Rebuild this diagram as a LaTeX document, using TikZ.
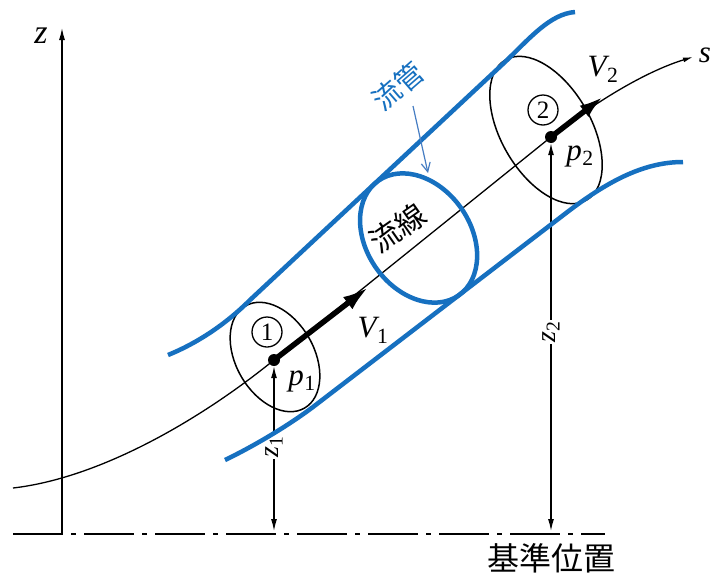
\documentclass[tikz,border=0pt]{standalone}
\usepackage{fontspec}
\newfontfamily\jp{Noto Sans CJK JP}
\newfontfamily\tms{Liberation Serif}
\newfontfamily\tmsi{Liberation Serif Italic}
\usetikzlibrary{arrows.meta,shapes.geometric}
\definecolor{tubeblue}{RGB}{22,112,192}
\definecolor{lblblue}{RGB}{70,125,195}
\newcommand\mylab[2]{{\tmsi #1}\kern0.5pt{\tms\textsubscript{#2}}}
\begin{document}
\begin{tikzpicture}[x=1pt,y=-1pt,
  blk/.style={line width=1.3pt},
  tube/.style={tubeblue,line width=4.5pt},
  ell/.style={ellipse,draw,line width=1.5pt,inner sep=0pt,outer sep=0pt},
  dot/.style={circle,fill,inner sep=0pt,minimum size=12pt},
  cnum/.style={circle,draw,line width=1.3pt,inner sep=0pt,minimum size=30pt,font=\tms\fontsize{25}{25}\selectfont},
  lbl/.style={font=\fontsize{31}{31}\selectfont},
  zlbl/.style={font=\fontsize{28}{28}\selectfont,rotate=90,fill=white,inner sep=1pt},
  tip/.style={-{Latex[length=12pt,width=6pt]}},
  dtip/.style={{Latex[length=12pt,width=6pt]}-{Latex[length=12pt,width=6pt]}}
]
\useasboundingbox (0,0) rectangle (713,576);
\fill[white] (0,0) rectangle (713,576);

% z axis and base line
\coordinate (zb) at (62,534);
\coordinate (zt) at (62,28);
\draw[blk,tip] (zb) -- (zt);
\node[font=\tmsi\fontsize{34}{34}\selectfont] (zl) at (41,36) {z};
\coordinate (b0) at (13,534);
\coordinate (b1) at (605,534);
\draw[line width=1.4pt,dash pattern=on 50pt off 8pt on 5pt off 8pt] (b0) -- (b1);
\node[font=\jp\fontsize{32}{32}\selectfont] (base) at (551,558) {基準位置};

% ellipses (sections)
\node[ell,minimum width=118pt,minimum height=78pt,rotate=-60] (E1) at (275,357) {};
\node[ell,minimum width=162pt,minimum height=90pt,rotate=-60] (E2) at (546,130) {};

% streamline
\coordinate (sA) at (13,488);
\node[dot] (P1) at (274,360) {};
\node[dot] (P2) at (551,137) {};
\coordinate (sB) at (693,57);
\draw[blk,-{Latex[length=10pt,width=5pt]}] (sA) .. controls (100,478) and (200,420) .. (P1.center) -- (P2.center) .. controls (600,98) and (650,70) .. (sB);
\node[font=\tmsi\fontsize{31}{31}\selectfont] (sl) at (705,55) {s};

% velocity arrows
\coordinate (V1tip) at (370,286);
\draw[line width=5.5pt,-{Latex[length=28pt,width=15pt]}] (P1.center) -- (V1tip);
\coordinate (V2tip) at (604,96);
\draw[line width=5.5pt,-{Latex[length=25pt,width=14pt]}] (P2.center) -- (V2tip);
\node[lbl] (v1) at (373,330) {\mylab{V}{1}};
\node[lbl] (v2) at (603,69) {\mylab{V}{2}};

% labels at points
\node[lbl] (p1) at (302,381) {\mylab{p}{1}};
\node[lbl] (p2) at (580,156) {\mylab{p}{2}};
\node[cnum] (c1) at (267,332) {1};
\node[cnum] (c2) at (543,110) {2};

% heights
\coordinate (z1b) at (274,531);
\draw[blk,dtip] (z1b) -- (P1.south);
\node[zlbl] (z1l) at (274,447) {\mylab{z}{1}};
\coordinate (z2b) at (551,531);
\draw[blk,dtip] (z2b) -- (P2.south);
\node[zlbl] (z2l) at (551,332) {\mylab{z}{2}};

% streamline label
\node[font=\jp\fontsize{30}{30}\selectfont,rotate=35] (sline) at (398,228) {流線};

% stream tube (blue)
\draw[tube] (168,355) .. controls (200,342) and (228,322) .. (250,300) -- (505,62) .. controls (530,38) and (550,14) .. (575,12);
\draw[tube] (225,460) .. controls (250,448) and (285,428) .. (313,407) -- (570,210) .. controls (610,180) and (645,162) .. (683,162);
\node[ellipse,draw=tubeblue,line width=4.5pt,inner sep=0pt,minimum width=140pt,minimum height=104pt,rotate=-55] (tubeE) at (418.6,238) {};
\node[font=\jp\fontsize{28}{28}\selectfont,text=tubeblue,rotate=41] (tubelbl) at (398,86) {流管};
\coordinate (ta) at (413,106);
\coordinate (tb) at (428,173);
\draw[lblblue,line width=1.2pt,-{Straight Barb[length=9pt,width=9pt]}] (ta) -- (tb);
\end{tikzpicture}
\end{document}
